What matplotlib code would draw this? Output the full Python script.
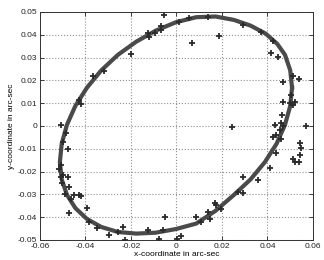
import numpy as np
import matplotlib
matplotlib.use("Agg")
import matplotlib.pyplot as plt
from matplotlib.ticker import FuncFormatter

plt.rcParams['font.family'] = ['Liberation Sans', 'DejaVu Sans']
plt.rcParams['axes.unicode_minus'] = False

# fitted orbit, arc-sec
orbit_x = [0.0508, 0.0500, 0.0477, 0.0443, 0.0392, 0.0326, 0.0253, 0.0172, 0.0087, -0.0002,
           -0.0091, -0.0176, -0.0257, -0.0330, -0.0393, -0.0444, -0.0481, -0.0504, -0.0512,
           -0.0504, -0.0481, -0.0444, -0.0393, -0.0330, -0.0257, -0.0176, -0.0091, -0.0002,
           0.0087, 0.0172, 0.0253, 0.0326, 0.0389, 0.0440, 0.0477, 0.0500, 0.0508]
orbit_y = [0.0168, 0.0244, 0.0312, 0.0360, 0.0405, 0.0440, 0.0465, 0.0480, 0.0477, 0.0455,
           0.0418, 0.0370, 0.0312, 0.0244, 0.0168, 0.0088, 0.0005, -0.0078, -0.0158,
           -0.0234, -0.0302, -0.0360, -0.0408, -0.0443, -0.0465, -0.0472, -0.0468, -0.0452,
           -0.0428, -0.0372, -0.0302, -0.0234, -0.0158, -0.0078, 0.0005, 0.0088, 0.0168]

# observed positions
obs_x = [-0.0053, -0.0119, -0.0126, -0.0092, -0.0067, -0.0067, 0.0067, 0.0189, 0.0057, 0.0138,
         0.0013, -0.0199, -0.0316, -0.0368, -0.0426, -0.0419, -0.0507, 0.0292, 0.0372, 0.0426,
         0.0416, 0.0445, 0.0467, 0.0511, 0.0540,
         0.0467, 0.0497, 0.0519, 0.0511, 0.0504, 0.0465, 0.0431, 0.0460, 0.0467, 0.0570,
         0.0245, 0.0453, 0.0438, 0.0423, 0.0460, 0.0541, 0.0548, 0.0541, 0.0511, 0.0538,
         0.0519, 0.0438, 0.0409,
         0.0357, 0.0292, 0.0270, 0.0292, 0.0171, 0.0174, 0.0138, 0.0148, 0.0109, 0.0087,
         0.0196, -0.0050, -0.0075, -0.0126, 0.0018, 0.0004, -0.0060, -0.0233, -0.0225,
         -0.0485, -0.0500, -0.0478, -0.0517, -0.0500, -0.0503, -0.0478, -0.0507, -0.0470, -0.0489,
         -0.0463, -0.0448, -0.0429, -0.0419, -0.0473, -0.0392, -0.0385, -0.0350, -0.0298, -0.0258,
         -0.0507]
obs_y = [0.0487, 0.0392, 0.0407, 0.0407, 0.0421, 0.0439, 0.0365, 0.0395, 0.0472, 0.0477,
         0.0458, 0.0314, 0.0243, 0.0221, 0.0114, 0.0096, 0.0004, 0.0443, 0.0414, 0.0374,
         0.0322, 0.0301, 0.0192, 0.0219, 0.0206,
         0.0107, 0.0100, 0.0107, 0.0092, 0.0136, 0.0048, 0.0004, 0.0012, 0.0000, 0.0000,
         -0.0003, -0.0018, -0.0039, -0.0047, -0.0058, -0.0073, -0.0098, -0.0127, -0.0146, -0.0157,
         -0.0157, -0.0117, -0.0186,
         -0.0237, -0.0225, -0.0288, -0.0295, -0.0339, -0.0346, -0.0376, -0.0410, -0.0420, -0.0400,
         -0.0362, -0.0400, -0.0495, -0.0457, -0.0484, -0.0497, -0.0455, -0.0444, -0.0500,
         -0.0032, -0.0069, -0.0102, -0.0190, -0.0215, -0.0249, -0.0222, -0.0222, -0.0266, -0.0298,
         -0.0321, -0.0303, -0.0303, -0.0307, -0.0382, -0.0358, -0.0422, -0.0449, -0.0478, -0.0464,
         -0.0171]

x_ticks = [-0.06, -0.04, -0.02, 0, 0.02, 0.04, 0.06]
y_ticks = [-0.05, -0.04, -0.03, -0.02, -0.01, 0, 0.01, 0.02, 0.03, 0.04, 0.05]

fig = plt.figure(figsize=(3.24, 2.60), dpi=100)
ax = fig.add_axes([0.123, 0.077, 0.843, 0.877])

ax.plot(orbit_x, orbit_y, color='#4a4a4a', lw=3.0, solid_joinstyle='round', zorder=2)
ax.plot(obs_x, obs_y, ls='none', marker='+', ms=5, mew=1.3, color='#2a2a2a', zorder=3)

ax.set_xlim(-0.06, 0.06)
ax.set_ylim(-0.05, 0.05)
ax.set_xticks(x_ticks)
ax.set_yticks(y_ticks)
fmt = FuncFormatter(lambda v, p: '%g' % round(v, 3))
ax.xaxis.set_major_formatter(fmt)
ax.yaxis.set_major_formatter(fmt)
ax.tick_params(direction='in', length=3, width=0.6, labelsize=6, pad=2,
               top=True, right=True, colors='#222222')
ax.grid(True, ls=':', lw=0.8, color='#909090')
for s in ax.spines.values():
    s.set_linewidth(0.7)
    s.set_color('#333333')

ax.set_xlabel('x-coordinate in arc-sec', fontsize=6, labelpad=1)
ax.set_ylabel('y-coordinate in arc-sec', fontsize=6, labelpad=2)

fig.savefig('out.png', dpi=100)
